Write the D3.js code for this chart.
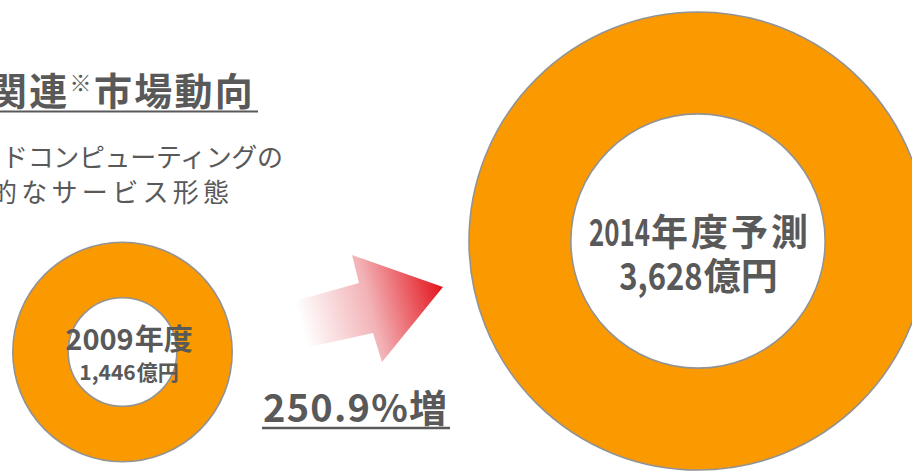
<!DOCTYPE html>
<html>
<head>
<meta charset="utf-8">
<script src="https://cdn.jsdelivr.net/npm/d3@7"></script>
<style>
  html, body { margin: 0; padding: 0; background: #fff; overflow: hidden; }
  svg { display: block; }
  text { font-family: 'Noto Sans CJK JP', sans-serif; fill: #595959; }
</style>
</head>
<body>
<div id="chart"></div>
<script>
// data
const years = [2009, 2014];
const yearLabels = ['2009年度', '2014年度予測'];
const values = [1446, 3628];
const valueLabels = ['1,446億円', '3,628億円'];
const growthLabel = '250.9%増';
const titleText = ['関連', '※', '市場動向'];
const subLines = ['ドコンピューティングの', '的なサービス形態'];

const width = 912;
const height = 471;

// layout (sizes/styles only)
const holeRatio = [0.495, 0.555];
const labelSize = [[29, 21], [37, 37]];
const digitScale = [[1, 1], [0.7, 0.84]];
const labelY = [[-2, 28], [5, 49]];
const labelShift = [6, 0];
const cjkSpacing = [[0, 0], [3, 0]];

const svg = d3.select('#chart').append('svg')
  .attr('width', width)
  .attr('height', height);

const defs = svg.append('defs');

const grad = defs.append('linearGradient')
  .attr('id', 'arrowGrad')
  .attr('gradientUnits', 'userSpaceOnUse')
  .attr('x1', 282).attr('y1', 330)
  .attr('x2', 443).attr('y2', 287);
grad.append('stop').attr('offset', '0%').attr('stop-color', '#ffffff');
grad.append('stop').attr('offset', '12%').attr('stop-color', '#ffffff');
grad.append('stop').attr('offset', '55%').attr('stop-color', '#f2b2b6');
grad.append('stop').attr('offset', '100%').attr('stop-color', '#e3131b');

const x = d3.scaleLinear().domain(d3.extent(years)).range([122.5, 698]);
const y = d3.scaleLinear().domain(d3.extent(years)).range([352, 241]);
const r = d3.scalePow().exponent(0.8).domain([0, d3.max(values)]).range([0, 229]);

const arc = d3.arc();

const rings = svg.selectAll('g.ring')
  .data(values.map((v, i) => ({ year: years[i], value: v, i })))
  .join('g')
  .attr('class', 'ring')
  .attr('transform', d => `translate(${x(d.year)},${y(d.year)})`);

rings.append('path')
  .attr('d', d => arc({
    innerRadius: r(d.value) * holeRatio[d.i],
    outerRadius: r(d.value),
    startAngle: 0,
    endAngle: 2 * Math.PI,
  }))
  .attr('fill', '#fa9900')
  .attr('stroke', '#939393')
  .attr('stroke-width', 1.6);

// label with narrowed digits + CJK part, centred together
const drawLabel = (g, str, i, row) => {
  const m = str.match(/^([\d,]+)(.*)$/);
  const size = labelSize[i][row];
  const sx = digitScale[i][row];
  const lg = g.append('g');
  const num = lg.append('text')
    .style('font-size', size + 'px')
    .style('font-weight', 700)
    .text(m[1]);
  const rest = lg.append('text')
    .style('font-size', size + 'px')
    .style('font-weight', 700)
    .style('letter-spacing', cjkSpacing[i][row] + 'px')
    .text(m[2]);
  const w1 = num.node().getComputedTextLength() * sx;
  const w2 = rest.node().getComputedTextLength() - cjkSpacing[i][row];
  const x0 = labelShift[i] - (w1 + w2) / 2;
  const yy = labelY[i][row];
  num.attr('transform', `translate(${x0},${yy}) scale(${sx},1)`);
  rest.attr('x', x0 + w1 + 1).attr('y', yy);
};

rings.each(function (d) {
  const g = d3.select(this);
  drawLabel(g, yearLabels[d.i], d.i, 0);
  drawLabel(g, valueLabels[d.i], d.i, 1);
});

// arrow
svg.append('path')
  .attr('d', 'M280,305 L359,283 L352,255 L443,287 L382,362 L373,333 L282,353 Z')
  .attr('fill', 'url(#arrowGrad)');

// growth label
svg.append('text')
  .attr('x', 263)
  .attr('y', 422)
  .attr('textLength', 184)
  .style('font-size', '38px')
  .style('font-weight', 700)
  .text(growthLabel);

svg.append('line')
  .attr('x1', 262).attr('x2', 450)
  .attr('y1', 428).attr('y2', 428)
  .attr('stroke', '#595959')
  .attr('stroke-width', 2.5);

// title
const title = svg.append('text')
  .attr('x', -11)
  .attr('y', 105)
  .style('font-size', '38px')
  .style('font-weight', 700)
  .style('letter-spacing', '2.3px');
title.append('tspan').text(titleText[0]);
title.append('tspan').attr('dy', -14).style('font-size', '22px').text(titleText[1]);
title.append('tspan').attr('dy', 14).text(titleText[2]);

svg.append('line')
  .attr('x1', 0).attr('x2', 258)
  .attr('y1', 111.5).attr('y2', 111.5)
  .attr('stroke', '#595959')
  .attr('stroke-width', 2);

svg.selectAll('text.sub')
  .data(subLines)
  .join('text')
  .attr('class', 'sub')
  .attr('x', (d, i) => i === 0 ? 2 : -9)
  .attr('y', (d, i) => 167 + i * 35)
  .attr('textLength', (d, i) => i === 0 ? 281 : 238)
  .style('font-size', '26px')
  .text(d => d);
</script>
</body>
</html>
